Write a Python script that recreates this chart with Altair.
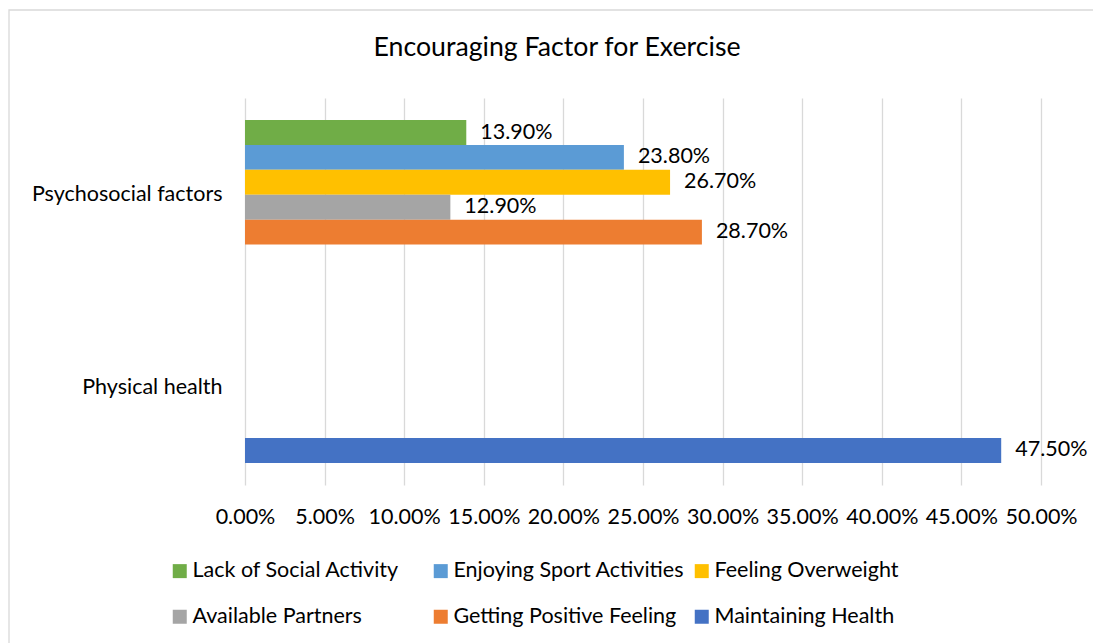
import altair as alt
import pandas as pd

categories = ["Psychosocial factors", "Psychosocial factors", "Psychosocial factors",
              "Psychosocial factors", "Psychosocial factors", "Physical health"]
series = ["Lack of Social Activity", "Enjoying Sport Activities", "Feeling Overweight",
          "Available Partners", "Getting Positive Feeling", "Maintaining Health"]
values = [0.139, 0.238, 0.267, 0.129, 0.287, 0.475]

category_order = ["Psychosocial factors", "Physical health"]
series_order = ["Lack of Social Activity", "Enjoying Sport Activities", "Feeling Overweight",
                "Available Partners", "Getting Positive Feeling", "Maintaining Health"]
colors = ["#70AD47", "#5B9BD5", "#FFC000", "#A5A5A5", "#ED7D31", "#4472C4"]
tick_values = [0.0, 0.05, 0.10, 0.15, 0.20, 0.25, 0.30, 0.35, 0.40, 0.45, 0.50]
title_text = "Encouraging Factor for Exercise"

df = pd.DataFrame({"category": categories, "series": series, "value": values})

FONT = "Lato"
FS = 21.5

x_enc = alt.X("value:Q",
              scale=alt.Scale(domain=[0, 0.5], nice=False),
              axis=alt.Axis(values=tick_values, format=".2%", title=None, domain=False,
                            ticks=False, grid=True, gridColor="#d9d9d9", gridWidth=1.3,
                            labelFont=FONT, labelFontSize=FS, labelColor="#000000",
                            labelPadding=21, labelOverlap=False, labelFlush=False))
y_enc = alt.Y("category:N",
              scale=alt.Scale(domain=category_order, paddingInner=0.228, paddingOuter=0.114),
              axis=alt.Axis(title=None, domain=False, ticks=False, grid=False,
                            labelFont=FONT, labelFontSize=FS, labelColor="#000000",
                            labelPadding=23, labelLimit=400))
yoff = alt.YOffset("series:N", scale=alt.Scale(domain=series_order))

base = alt.Chart(df)

bars = base.mark_bar().encode(
    x=x_enc, y=y_enc, yOffset=yoff,
    color=alt.Color("series:N",
                    scale=alt.Scale(domain=series_order, range=colors),
                    legend=alt.Legend(orient="none", legendX=-76, legendY=462, columns=3,
                                      gridAlign="all", direction="horizontal", title=None,
                                      symbolType="square", symbolSize=196, symbolStrokeWidth=0,
                                      symbolOpacity=1, labelFont=FONT, labelFontSize=FS,
                                      labelColor="#000000", labelOffset=2, columnPadding=6,
                                      rowPadding=23, padding=0, labelLimit=400)),
)

labels = base.mark_text(align="left", baseline="middle", dx=14, font=FONT,
                        fontSize=FS, color="#000000").encode(
    x="value:Q", y=alt.Y("category:N"), yOffset=yoff,
    text=alt.Text("value:Q", format=".2%"),
)

one = pd.DataFrame({"t": [title_text]})

border = alt.Chart(one).mark_rect(
    fill="transparent", stroke="#d9d9d9", strokeWidth=1.3
).encode(x=alt.value(-236), x2=alt.value(900), y=alt.value(-88), y2=alt.value(600))

title = alt.Chart(one).mark_text(
    font=FONT, fontSize=26.7, color="#000000", align="center", baseline="middle"
).encode(text="t:N", x=alt.value(312), y=alt.value(-50))

chart = alt.layer(border, bars, labels, title).properties(
    width=796, height=387,
    padding={"left": 245, "top": 98, "right": 52, "bottom": 158},
    autosize=alt.AutoSizeParams(type="none"),
).configure_view(stroke=None)

chart.save("out.html", embed_options={"renderer": "svg", "actions": False})
